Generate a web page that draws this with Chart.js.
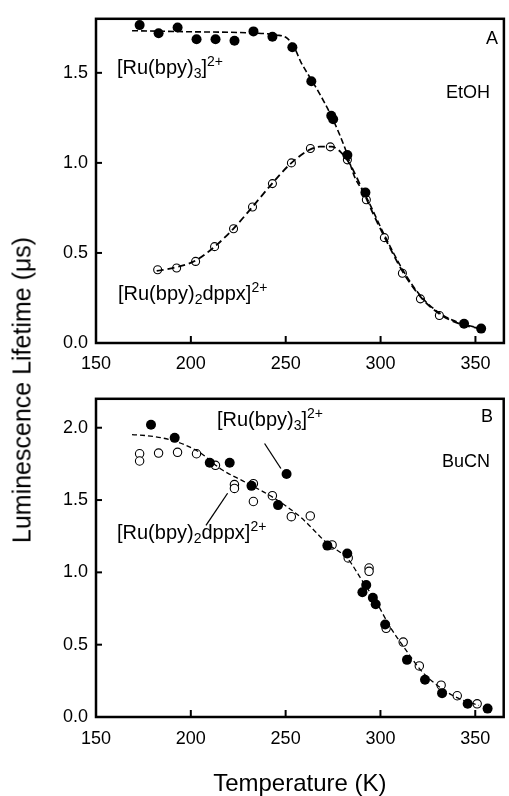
<!DOCTYPE html>
<html><head><meta charset="utf-8">
<script src="https://cdn.jsdelivr.net/npm/chart.js@4.4.1/dist/chart.umd.min.js"></script>
<style>
html,body{margin:0;padding:0;background:#fff;}
#wrap{position:relative;width:509px;height:796px;overflow:hidden;font-family:"Liberation Sans",Arial,sans-serif;color:#000;}
canvas{position:absolute;left:0;}
.lbl{position:absolute;white-space:nowrap;font-size:20px;line-height:1;}
.lbl sub{font-size:14px;vertical-align:-4px;line-height:0;}
.lbl sup{font-size:14px;vertical-align:8px;line-height:0;}
.pl{position:absolute;white-space:nowrap;font-size:18px;line-height:1;text-align:right;}
#ytitle{position:absolute;left:22px;top:390px;transform:translate(-50%,-50%) rotate(-90deg);font-size:25px;line-height:1;white-space:nowrap;}
</style></head>
<body>
<div id="wrap">
<canvas id="cA" width="509" height="380" style="top:0"></canvas>
<canvas id="cB" width="509" height="416" style="top:380px"></canvas>
<div id="ytitle">Luminescence Lifetime (μs)</div>
<div class="lbl" style="left:117px;top:57px">[Ru(bpy)<sub>3</sub>]<sup>2+</sup></div>
<div class="lbl" style="left:118px;top:283px">[Ru(bpy)<sub>2</sub>dppx]<sup>2+</sup></div>
<div class="pl" style="right:11px;top:29px">A</div>
<div class="pl" style="right:19px;top:83px">EtOH</div>
<div class="lbl" style="left:217px;top:409px">[Ru(bpy)<sub>3</sub>]<sup>2+</sup></div>
<div class="lbl" style="left:117px;top:522px">[Ru(bpy)<sub>2</sub>dppx]<sup>2+</sup></div>
<div class="pl" style="right:16px;top:407px">B</div>
<div class="pl" style="right:19px;top:452px">BuCN</div>
</div>
<script>
// ---------- Panel A (EtOH) ----------
const aFilledT = [173, 183, 193, 203, 213, 223, 233, 243, 253.5, 263.5, 274, 275, 282.5, 292, 344, 353];
const aFilledV = [1.765, 1.72, 1.752, 1.686, 1.686, 1.678, 1.73, 1.70, 1.642, 1.453, 1.262, 1.242, 1.044, 0.835, 0.107, 0.08];
const aOpenT = [182.5, 192.5, 202.5, 212.5, 222.5, 232.5, 243, 253, 263, 273.5, 282.5, 292.5, 302, 311.5, 321, 331];
const aOpenV = [0.407, 0.416, 0.453, 0.535, 0.634, 0.755, 0.885, 1.0, 1.08, 1.089, 1.017, 0.795, 0.585, 0.387, 0.245, 0.153];
const aFitFilledT = [169, 200, 230, 245, 251, 255, 258, 263, 267, 274.5, 282, 286, 292, 302, 312, 322, 332, 342, 353];
const aFitFilledV = [1.734, 1.728, 1.722, 1.71, 1.69, 1.63, 1.56, 1.47, 1.40, 1.25, 1.06, 0.93, 0.82, 0.6, 0.4, 0.25, 0.16, 0.11, 0.08];
const aFitOpenT = [182, 192, 202, 212, 222, 232, 242, 252, 262, 268, 274, 279, 284, 290, 296, 302, 312, 322, 332, 342, 353];
const aFitOpenV = [0.40, 0.42, 0.455, 0.53, 0.63, 0.75, 0.875, 0.99, 1.07, 1.09, 1.09, 1.06, 0.99, 0.86, 0.72, 0.59, 0.39, 0.245, 0.155, 0.105, 0.08];

// ---------- Panel B (BuCN) ----------
const bFilledT = [179, 191.5, 210, 220.5, 232, 246, 250.5, 272, 282.5, 290.5, 292.5, 296, 297.5, 302.5, 314, 323.5, 332.5, 346, 356.5];
const bFilledV = [2.02, 1.93, 1.758, 1.758, 1.598, 1.465, 1.68, 1.185, 1.13, 0.862, 0.913, 0.824, 0.78, 0.64, 0.395, 0.258, 0.165, 0.091, 0.058];
const bOpenT = [173, 173, 183, 193, 203, 213, 223, 223, 233, 233, 243, 253, 263, 274.5, 283, 294, 294, 303, 312, 320.5, 332, 340.5, 351];
const bOpenV = [1.82, 1.77, 1.825, 1.83, 1.82, 1.74, 1.607, 1.58, 1.613, 1.49, 1.53, 1.385, 1.39, 1.19, 1.10, 1.03, 1.007, 0.613, 0.518, 0.353, 0.22, 0.147, 0.091];
const bFitT = [169, 180, 190, 204, 216, 228.5, 244, 258, 272, 283, 290, 298, 305, 312, 322, 333, 343, 352];
const bFitV = [1.953, 1.94, 1.913, 1.835, 1.713, 1.625, 1.513, 1.38, 1.20, 1.09, 0.95, 0.79, 0.625, 0.49, 0.313, 0.19, 0.118, 0.08];
// leader lines in panel B: [T1, v1, T2, v2]
const bLeaders = [[238.9, 1.891, 247.5, 1.718], [208, 1.325, 219.4, 1.547]];

const xTicks = [150, 200, 250, 300, 350];
const aYTicks = [0, 0.5, 1.0, 1.5];
const bYTicks = [0, 0.5, 1.0, 1.5, 2.0];

const FONT = '"Liberation Sans", Arial, sans-serif';
const pts = (T, V) => T.map((t, i) => ({x: t, y: V[i]}));

function frameTicks(leaders) {
  return {
    id: 'frameTicks',
    afterDatasetsDraw(chart) {
      const {ctx, chartArea: a, scales: {x, y}} = chart;
      ctx.save();
      ctx.strokeStyle = '#000';
      if (leaders) {
        ctx.lineWidth = 1.3;
        leaders.forEach(l => {
          ctx.beginPath();
          ctx.moveTo(x.getPixelForValue(l[0]), y.getPixelForValue(l[1]));
          ctx.lineTo(x.getPixelForValue(l[2]), y.getPixelForValue(l[3]));
          ctx.stroke();
        });
      }
      ctx.lineWidth = 2;
      x.ticks.forEach(t => {
        const p = x.getPixelForValue(t.value);
        ctx.beginPath(); ctx.moveTo(p, a.bottom); ctx.lineTo(p, a.bottom - 7); ctx.stroke();
      });
      y.ticks.forEach(t => {
        const p = y.getPixelForValue(t.value);
        ctx.beginPath(); ctx.moveTo(a.left, p); ctx.lineTo(a.left + 6, p); ctx.stroke();
      });
      ctx.lineWidth = 2.5;
      ctx.strokeRect(a.left, a.top, a.width, a.height);
      ctx.restore();
    }
  };
}

function makeChart(id, datasets, yMax, yTicks, opts) {
  return new Chart(document.getElementById(id), {
    type: 'scatter',
    data: {datasets},
    options: {
      responsive: false, animation: false, events: [],
      layout: {padding: {top: opts.padTop, right: 2, left: 0, bottom: 0}},
      plugins: {legend: {display: false}, tooltip: {enabled: false}},
      scales: {
        x: {
          type: 'linear', min: 150, max: 365,
          afterBuildTicks: s => { s.ticks = xTicks.map(v => ({value: v})); },
          afterFit: s => { s.height = opts.xH; },
          grid: {display: false, drawTicks: false}, border: {display: false},
          ticks: {color: '#000', font: {family: FONT, size: 18}, padding: opts.xPad, maxRotation: 0, autoSkip: false},
          title: opts.xTitle ? {display: true, text: 'Temperature (K)', color: '#000', font: {family: FONT, size: 24, lineHeight: 1}, padding: {top: 0, bottom: 0}} : {display: false}
        },
        y: {
          type: 'linear', min: 0, max: yMax,
          afterBuildTicks: s => { s.ticks = yTicks.map(v => ({value: v})); },
          afterFit: s => { s.width = 96; },
          grid: {display: false, drawTicks: false}, border: {display: false},
          ticks: {color: '#000', font: {family: FONT, size: 18}, padding: 8, callback: v => v.toFixed(1)}
        }
      }
    },
    plugins: [frameTicks(opts.leaders)]
  });
}

const dashLine = (T, V, dash, w) => ({
  data: pts(T, V), showLine: true, borderColor: '#000', borderWidth: w, borderDash: dash,
  pointRadius: 0, fill: false, cubicInterpolationMode: 'monotone', order: 2
});
const filled = (T, V, r) => ({
  data: pts(T, V), showLine: false, pointRadius: r, pointBackgroundColor: '#000', pointBorderColor: '#000', pointBorderWidth: 0, order: 1
});
const open = (T, V, r) => ({
  data: pts(T, V), showLine: false, pointRadius: r, pointBackgroundColor: '#fff', pointBorderColor: '#000', pointBorderWidth: 1.1, order: 3
});

makeChart('cA', [
  open(aOpenT, aOpenV, 4),
  dashLine(aFitFilledT, aFitFilledV, [6, 3], 1.6),
  dashLine(aFitOpenT, aFitOpenV, [7, 4], 1.8),
  filled(aFilledT, aFilledV, 5)
], 1.8, aYTicks, {padTop: 12, xH: 37, xPad: 10, xTitle: false});

makeChart('cB', [
  open(bOpenT, bOpenV, 4.2),
  dashLine(bFitT, bFitV, [5, 3], 1.3),
  filled(bFilledT, bFilledV, 5)
], 2.2, bYTicks, {padTop: 6, xH: 79, xPad: 11, xTitle: true, leaders: bLeaders});
</script>
</body></html>
